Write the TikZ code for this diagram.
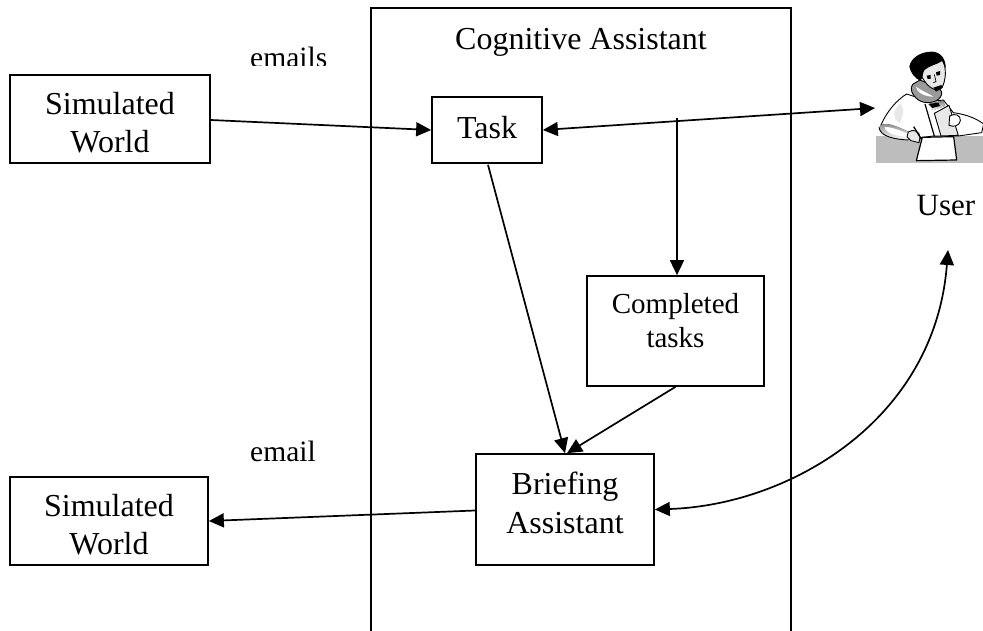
\documentclass[tikz,border=0pt]{standalone}
\usepackage{fontspec}
\setmainfont{Liberation Serif}
\usetikzlibrary{arrows.meta}
\definecolor{deskgray}{HTML}{BDBDBD}
\definecolor{skin}{HTML}{E8E8E8}
\definecolor{shade}{HTML}{9A9A9A}
\tikzset{
  box/.style={draw=black,line width=1.7pt,fill=white,inner sep=0pt,align=center,font=\fontsize{32}{38}\selectfont},
  conn/.style={line width=1.7pt,-{Triangle[length=15pt,width=14pt]}},
  both/.style={line width=1.7pt,{Triangle[length=15pt,width=14pt]}-{Triangle[length=15pt,width=14pt]}},
  lbl/.style={inner sep=0pt,font=\fontsize{29.5}{34}\selectfont},
  ink/.style={draw=black,line width=0.9pt,line join=round}
}
\begin{document}
\begin{tikzpicture}[x=1pt,y=-1pt]
\useasboundingbox (0,0) rectangle (983,631);
\fill[white] (0,0) rectangle (983,631);
% outer frame
\coordinate (cal) at (371,640);
\coordinate (car) at (791,640);
\draw[line width=1.8pt] (cal) -- (371,8) -- (791,8) -- (car);
\node[lbl,font=\fontsize{32}{38}\selectfont] (title) at (581,42) {Cognitive Assistant};
% label clipped at its lower edge
\begin{scope}
\clip (240,40) rectangle (340,65.5);
\node[lbl,anchor=base west] (emails) at (250,68) {emails};
\end{scope}
\node[lbl,anchor=base west] (email) at (250,461) {email};
% boxes
\node[box,minimum width=200pt,minimum height=88pt,text depth=0pt] (sw1) at (110,119) {};
\node[lbl,font=\fontsize{32}{38}\selectfont,align=center] (sw1t) at (110,123) {Simulated\\World};
\node[box,minimum width=198pt,minimum height=88pt] (sw2) at (109,521) {};
\node[lbl,font=\fontsize{32}{38}\selectfont,align=center] (sw2t) at (109,525) {Simulated\\World};
\node[box,minimum width=110pt,minimum height=66pt] (task) at (487,130) {};
\node[lbl,font=\fontsize{32}{38}\selectfont] (taskt) at (487,128) {Task};
\node[box,minimum width=177pt,minimum height=110pt] (done) at (675.5,331) {};
\node[lbl,font=\fontsize{29}{34}\selectfont,align=center] (donet) at (675.5,321) {Completed\\tasks};
\node[box,minimum width=178pt,minimum height=111pt] (brief) at (565,509.5) {};
\node[lbl,font=\fontsize{32}{39}\selectfont,align=center] (brieft) at (565,502.5) {Briefing\\Assistant};
\node[lbl,font=\fontsize{31}{36}\selectfont] (usr) at (946,206) {User};
% user figure
\coordinate (userL) at (875,108);
\coordinate (userB) at (948,250);
\coordinate (junc) at (677,118);
\fill[deskgray] (876,136) rectangle (983,163);
% body, in crop coordinates
\begin{scope}[shift={(875,90)},x=0.3333pt,y=-0.3333pt]
\draw[ink,fill=white] (95,12) .. controls (65,30) and (35,65) .. (18,105) -- (30,132) -- (100,148) -- (175,138) -- (250,138) -- (320,128) -- (326,102) .. controls (300,82) and (265,72) .. (235,68) -- (205,30) -- (165,35) -- cycle;
\fill[skin] (75,40) .. controls (55,60) and (50,85) .. (75,100) .. controls (85,70) and (90,55) .. (75,40) -- cycle;
\fill[shade] (12,112) .. controls (25,95) and (45,100) .. (100,125) -- (100,150) .. controls (60,148) and (15,140) .. (12,112) -- cycle;
\fill[white] (28,112) .. controls (45,108) and (75,122) .. (100,132) -- (100,142) .. controls (65,138) and (35,132) .. (28,112) -- cycle;
\draw[ink] (12,112) .. controls (15,140) and (60,148) .. (100,150);
\draw[ink,fill=skin] (100,126) .. controls (115,115) and (135,125) .. (135,142) -- (132,158) -- (108,152) -- (96,140) -- cycle;
\draw[black,line width=1.3pt] (116,110) -- (150,165);
\fill[shade] (160,42) -- (205,32) -- (210,48) -- (175,60) -- cycle;
\fill[black] (162,42) -- (190,38) -- (195,48) -- (172,54) -- cycle;
\draw[ink,line width=1.2pt] (150,42) -- (178,138);
\draw[ink,fill=skin] (178,70) -- (222,46) -- (250,136) -- (198,138) -- cycle;
\draw[ink,fill=white] (224,78) .. controls (240,68) and (258,76) .. (256,92) .. controls (254,108) and (236,112) .. (222,106) -- cycle;
\draw[ink,fill=white,line width=1.2pt] (142,142) -- (236,140) -- (245,210) -- (124,212) -- cycle;
\end{scope}
% head, in crop coordinates
\begin{scope}[shift={(900,45)},x=0.3333pt,y=-0.3333pt]
\draw[ink,fill=shade] (38,118) .. controls (28,128) and (35,150) .. (55,165) .. controls (75,178) and (110,175) .. (122,155) .. controls (128,145) and (125,135) .. (118,130) -- (60,105) -- cycle;
\fill[white] (48,125) .. controls (50,140) and (70,155) .. (100,155) .. controls (85,145) and (60,135) .. (48,125) -- cycle;
\draw[ink,fill=skin] (64,92) .. controls (62,70) and (100,60) .. (128,45) .. controls (140,70) and (138,105) .. (126,128) .. controls (115,142) and (85,135) .. (64,92) -- cycle;
\fill[black] (62,108) .. controls (45,100) and (32,85) .. (28,65) .. controls (32,40) and (60,20) .. (95,20) .. controls (120,20) and (138,40) .. (137,70) -- (126,48) .. controls (105,62) and (85,62) .. (74,72) .. controls (68,82) and (70,95) .. (62,108) -- cycle;
\fill[black] (80,92) -- (92,90) -- (92,102) -- (83,102) -- cycle;
\fill[black] (108,82) -- (120,78) -- (120,90) -- (110,92) -- cycle;
\draw[black,line width=0.7pt] (103,88) -- (108,110) -- (100,113);
\fill[black] (100,128) -- (124,120) -- (128,128) -- (108,140) -- cycle;
\end{scope}
% connectors
\draw[conn] (sw1.east) ++(0,1) -- (task.west);
\draw[both] (task.east) -- (userL);
\draw[conn] (junc) -- (done.north -| junc);
\draw[conn] (task.south) ++(1,1) -- ([xshift=0pt]brief.north);
\draw[conn] (done.south) ++(0,0) -- ([xshift=2pt]brief.north);
\draw[conn] (brief.west) ++(0,1) -- (sw2.east);
\draw[both] (brief.east) .. controls (790,505) and (935,420) .. (userB);
\end{tikzpicture}
\end{document}
